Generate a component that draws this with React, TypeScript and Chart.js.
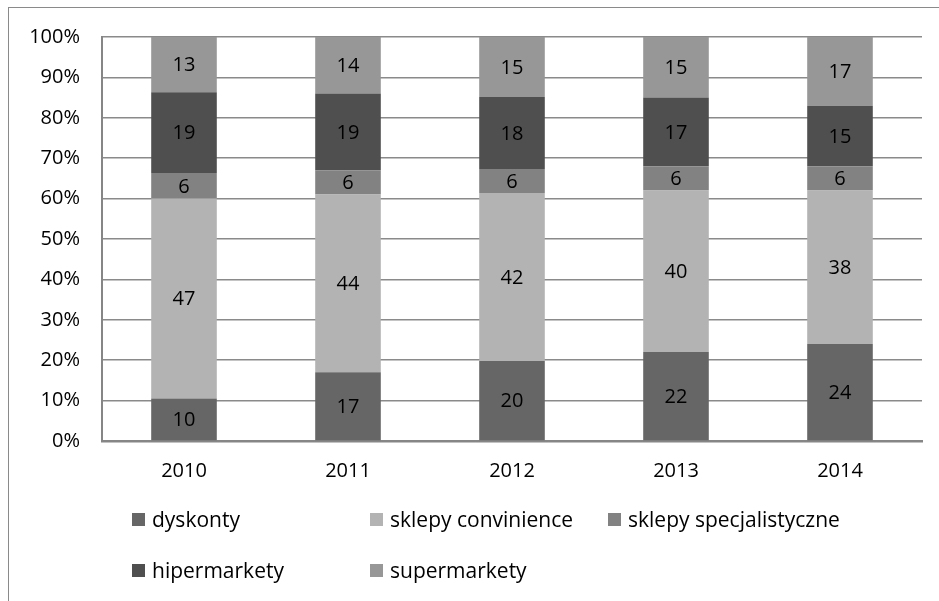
import React, { useEffect, useRef } from "react";
import { Chart, registerables } from "chart.js";

Chart.register(...registerables);

// Udział formatów sklepów w sprzedaży, 2010–2014
const years = ["2010", "2011", "2012", "2013", "2014"];
const dyskonty = [10, 17, 20, 22, 24];
const sklepyConvinience = [47, 44, 42, 40, 38];
const sklepySpecjalistyczne = [6, 6, 6, 6, 6];
const hipermarkety = [19, 19, 18, 17, 15];
const supermarkety = [13, 14, 15, 15, 17];

const seriesNames = [
  "dyskonty",
  "sklepy convinience",
  "sklepy specjalistyczne",
  "hipermarkety",
  "supermarkety",
];
const seriesValues = [dyskonty, sklepyConvinience, sklepySpecjalistyczne, hipermarkety, supermarkety];
const seriesColors = ["#666666", "#b3b3b3", "#828282", "#4f4f4f", "#979797"];

const FONT = "'Open Sans', 'DejaVu Sans', sans-serif";

// totals per year, used to stack each column to 100%
const totals = years.map((_, i) => seriesValues.reduce((s, arr) => s + arr[i], 0));

const valueLabels = {
  id: "valueLabels",
  afterDatasetsDraw(chart: any) {
    const ctx = chart.ctx;
    ctx.save();
    ctx.font = `20px ${FONT}`;
    ctx.fillStyle = "#000";
    ctx.textAlign = "center";
    ctx.textBaseline = "middle";
    chart.data.datasets.forEach((ds: any, di: number) => {
      const meta = chart.getDatasetMeta(di);
      meta.data.forEach((bar: any, i: number) => {
        const raw = ds.raw[i];
        const cy = (bar.y + bar.base) / 2;
        ctx.fillText(String(raw), bar.x, cy + 1);
      });
    });
    ctx.restore();
  },
};

export default function App() {
  const canvasRef = useRef<HTMLCanvasElement | null>(null);

  useEffect(() => {
    const canvas = canvasRef.current;
    if (!canvas) return;
    const chart = new Chart(canvas, {
      type: "bar",
      data: {
        labels: years,
        datasets: seriesNames.map((name, si) => ({
          label: name,
          data: seriesValues[si].map((v, i) => (v / totals[i]) * 100),
          raw: seriesValues[si],
          backgroundColor: seriesColors[si],
          borderWidth: 0,
          barPercentage: 0.4,
          categoryPercentage: 1,
        })) as any,
      },
      options: {
        responsive: false,
        animation: false,
        devicePixelRatio: 1,
        layout: { padding: { top: 37, right: 17, left: 0, bottom: 0 } },
        plugins: {
          legend: { display: false },
          tooltip: { enabled: false },
        },
        scales: {
          x: {
            stacked: true,
            grid: { display: false, drawTicks: false },
            border: { display: true, color: "#868686", width: 2.5 },
            ticks: { color: "#000", font: { family: FONT, size: 20 }, padding: 18 },
            afterFit(s: any) {
              s.height = 160;
            },
          },
          y: {
            stacked: true,
            min: 0,
            max: 100,
            grid: { color: "#8a8a8a", lineWidth: 1.5, drawTicks: false },
            border: { display: true, color: "#868686", width: 2 },
            ticks: {
              stepSize: 10,
              color: "#000",
              font: { family: FONT, size: 20 },
              padding: 22,
              callback: (v: any) => `${v}%`,
            },
            afterFit(s: any) {
              s.width = 102;
            },
          },
        },
      },
      plugins: [valueLabels],
    });
    return () => chart.destroy();
  }, []);

  const colX = [132, 370, 608];
  const rowY = [520, 571];

  return (
    <div style={{ position: "absolute", left: 0, top: 0, width: 939, height: 601, overflow: "hidden", background: "#fff", fontFamily: FONT }}>
      <div
        style={{
          position: "absolute",
          left: 8,
          top: 7,
          width: 1000,
          height: 700,
          border: "1.5px solid #8a8a8a",
          boxSizing: "border-box",
        }}
      />
      <canvas ref={canvasRef} width={939} height={601} style={{ position: "absolute", left: 0, top: 0 }} />
      {seriesNames.map((name, i) => {
        const x = colX[i % 3];
        const y = rowY[Math.floor(i / 3)];
        return (
          <div key={name}>
            <div
              style={{
                position: "absolute",
                left: x,
                top: y - 7,
                width: 13,
                height: 13,
                background: seriesColors[i],
              }}
            />
            <div
              style={{
                position: "absolute",
                left: x + 20,
                top: y - 15,
                fontSize: 21,
                lineHeight: "28px",
                color: "#000",
                whiteSpace: "nowrap",
              }}
            >
              {name}
            </div>
          </div>
        );
      })}
    </div>
  );
}
